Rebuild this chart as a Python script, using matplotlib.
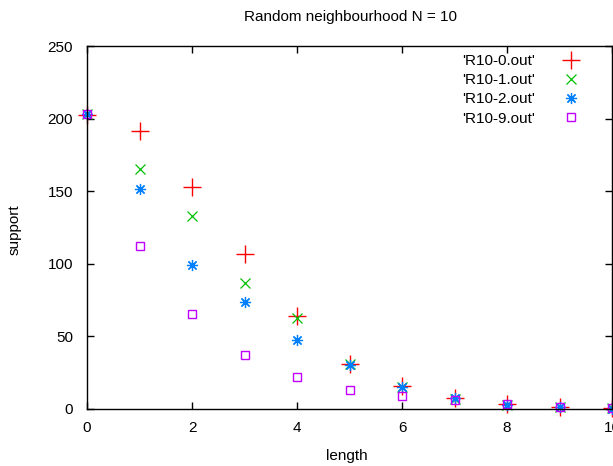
import matplotlib
matplotlib.use("Agg")
import matplotlib.pyplot as plt

plt.rcParams['font.family'] = ['Liberation Sans', 'DejaVu Sans']

length = [0, 1, 2, 3, 4, 5, 6, 7, 8, 9, 10]
r10_0 = [202.5, 191.5, 153, 107, 64, 31, 16, 7.5, 3.5, 1.5, 0.5]
r10_1 = [203, 165, 133, 87, 62.5, 31, 15, 7, 3, 1.5, 0.5]
r10_2 = [203, 151.5, 99, 74, 47.5, 30, 15, 7.5, 3, 1.5, 0.3]
r10_9 = [203, 112, 65.5, 37, 22, 13, 9, 6, 3.5, 1.5, 0.5]
labels = ["'R10-0.out'", "'R10-1.out'", "'R10-2.out'", "'R10-9.out'"]

W, H = 613, 466
FS = 11
fig = plt.figure(figsize=(W/100, H/100), dpi=100)
ax = fig.add_axes([87/W, (H-409)/H, (612-87)/W, (409-46)/H])

ax.plot(length, r10_0, linestyle='none', marker='+', markersize=13, markeredgewidth=1.0,
        color='#ff0000', label=labels[0], clip_on=False)
ax.plot(length, r10_1, linestyle='none', marker='x', markersize=7, markeredgewidth=0.9,
        color='#00c000', label=labels[1], clip_on=False)
ax.plot(length, r10_2, linestyle='none', marker=(8, 2, 0), markersize=8, markeredgewidth=0.9,
        color='#0080ff', label=labels[2], clip_on=False)
ax.plot(length, r10_9, linestyle='none', marker='s', markersize=6, markeredgewidth=1.0,
        markerfacecolor='none', color='#c000ff', label=labels[3], clip_on=False)

ax.set_xlim(0, 10)
ax.set_ylim(0, 250)
ax.set_xticks([0, 2, 4, 6, 8, 10])
ax.set_yticks([0, 50, 100, 150, 200, 250])
ax.tick_params(direction='in', top=True, right=True, length=5, width=1, labelsize=FS,
               colors='#000000')
ax.tick_params(axis='y', pad=10)
ax.tick_params(axis='x', pad=9)
for s in ax.spines.values():
    s.set_linewidth(1.0)

fig.text(350/W, 1-17/H, 'Random neighbourhood N = 10', ha='center', va='center', fontsize=FS)
fig.text(347/W, 1-456/H, 'length', ha='center', va='center', fontsize=FS)
fig.text(15/W, 1-230/H, 'support', ha='center', va='center', rotation=90, fontsize=FS)

leg = ax.legend(loc='upper right', bbox_to_anchor=((598-87)/(612-87), 1.0), frameon=False,
                markerfirst=False, fontsize=FS, handlelength=2.4, handletextpad=1.15,
                labelspacing=0.33, borderaxespad=0.15)

fig.savefig('out.png', dpi=100)
